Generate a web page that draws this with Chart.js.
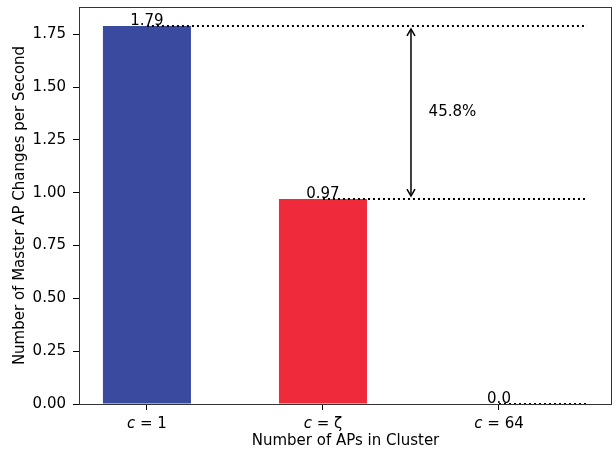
<!DOCTYPE html>
<html>
<head>
<meta charset="utf-8">
<script src="https://cdn.jsdelivr.net/npm/chart.js@4"></script>
<style>
  html, body { margin: 0; padding: 0; background: #fff; }
  #wrap { width: 616px; height: 450px; }
</style>
</head>
<body>
<div id="wrap"><canvas id="apChart"></canvas></div>
<script>
// данные
const categories = ['1', 'ζ', '64'];
const values = [1.79, 0.97, 0.0];
const valueLabels = ['1.79', '0.97', '0.0'];
const barColors = ['#394a9f', '#ee2a3b'];
const yTicks = [0, 0.25, 0.5, 0.75, 1.0, 1.25, 1.5, 1.75];
const refLineEnd = 2.5;
const reductionLabel = '45.8%';

const FONT = 'DejaVu Sans';

// пунктирные линии от вершин столбцов
const refLines = values.map((v, i) => ({
  type: 'line',
  data: [{ x: i, y: v }, { x: refLineEnd, y: v }],
  borderColor: '#000',
  borderWidth: 2,
  borderDash: [2, 3],
  pointRadius: 0,
  fill: false,
  order: 0
}));

const annotations = {
  id: 'annotations',
  afterDatasetsDraw(chart) {
    const { ctx, scales: { x, y }, chartArea } = chart;
    ctx.save();
    // подписи значений
    ctx.fillStyle = '#000';
    ctx.font = '15px ' + FONT;
    ctx.textAlign = 'center';
    ctx.textBaseline = 'alphabetic';
    values.forEach((v, i) => {
      ctx.fillText(valueLabels[i], x.getPixelForValue(i), y.getPixelForValue(v) - 1);
    });

    // двусторонняя стрелка
    const ax = x.getPixelForValue(1.5);
    const y1 = y.getPixelForValue(values[0]) + 3;
    const y2 = y.getPixelForValue(values[1]) - 3;
    ctx.strokeStyle = '#000';
    ctx.lineWidth = 1.5;
    ctx.beginPath();
    ctx.moveTo(ax, y1);
    ctx.lineTo(ax, y2);
    ctx.stroke();
    [[y1, 1], [y2, -1]].forEach(([ty, d]) => {
      ctx.beginPath();
      ctx.moveTo(ax - 4, ty + 7 * d);
      ctx.lineTo(ax, ty);
      ctx.lineTo(ax + 4, ty + 7 * d);
      ctx.stroke();
    });
    ctx.textAlign = 'left';
    ctx.textBaseline = 'middle';
    ctx.fillText(reductionLabel, x.getPixelForValue(1.6), y.getPixelForValue(1.38));

    // рамка
    ctx.strokeStyle = '#333';
    ctx.lineWidth = 1;
    ctx.strokeRect(chartArea.left + 0.5, chartArea.top + 0.5,
      chartArea.right - chartArea.left - 1, chartArea.bottom - chartArea.top);

    // подписи категорий: курсивная c
    ctx.textBaseline = 'alphabetic';
    categories.forEach((c, i) => {
      const cx = x.getPixelForValue(i);
      ctx.font = 'italic 15px ' + FONT;
      const w1 = ctx.measureText('c').width;
      ctx.font = '15px ' + FONT;
      const rest = ' = ' + c;
      const w2 = ctx.measureText(rest).width;
      const start = cx - (w1 + w2) / 2;
      ctx.textAlign = 'left';
      ctx.font = 'italic 15px ' + FONT;
      ctx.fillText('c', start, chartArea.bottom + 24);
      ctx.font = '15px ' + FONT;
      ctx.fillText(rest, start + w1, chartArea.bottom + 24);
    });
    ctx.restore();
  }
};

const ctx = document.getElementById('apChart').getContext('2d');
new Chart(ctx, {
  data: {
    datasets: [{
      type: 'bar',
      data: values.map((v, i) => ({ x: i, y: v })),
      backgroundColor: [barColors[0], barColors[1], barColors[1]],
      borderWidth: 0,
      barPercentage: 0.5,
      categoryPercentage: 1,
      order: 1
    }, ...refLines]
  },
  options: {
    responsive: true,
    maintainAspectRatio: false,
    animation: false,
    layout: { padding: { top: 7, right: 4, left: 0, bottom: 0 } },
    plugins: { legend: { display: false }, tooltip: { enabled: false } },
    scales: {
      x: {
        type: 'linear',
        offset: false,
        min: -0.386,
        max: 2.642,
        afterBuildTicks: axis => { axis.ticks = categories.map((c, i) => ({ value: i })); },
        afterFit: axis => { axis.height = 46; axis.paddingLeft = 0; axis.paddingRight = 0; },
        ticks: {
          color: 'rgba(0,0,0,0)',
          font: { family: FONT, size: 15 },
          callback: v => 'c = ' + categories[v]
        },
        grid: { offset: false, drawOnChartArea: false, tickLength: 6, color: '#000', tickWidth: 1 },
        border: { display: false },
        title: {
          display: true,
          text: 'Number of APs in Cluster',
          color: '#000',
          font: { family: FONT, size: 15 },
          padding: { top: 0, bottom: 0 }
        }
      },
      y: {
        min: 0,
        max: 1.8795,
        afterBuildTicks: axis => { axis.ticks = yTicks.map(v => ({ value: v })); },
        afterFit: axis => { axis.width = 79; axis.paddingTop = 0; axis.paddingBottom = 0; },
        ticks: {
          color: '#000',
          font: { family: FONT, size: 15 },
          padding: 7,
          callback: v => v.toFixed(2)
        },
        grid: { drawOnChartArea: false, tickLength: 6, color: '#000', tickWidth: 1 },
        border: { display: false },
        title: {
          display: true,
          text: 'Number of Master AP Changes per Second',
          color: '#000',
          font: { family: FONT, size: 15 },
          padding: { top: 11, bottom: 0 }
        }
      }
    }
  },
  plugins: [annotations]
});
</script>
</body>
</html>
